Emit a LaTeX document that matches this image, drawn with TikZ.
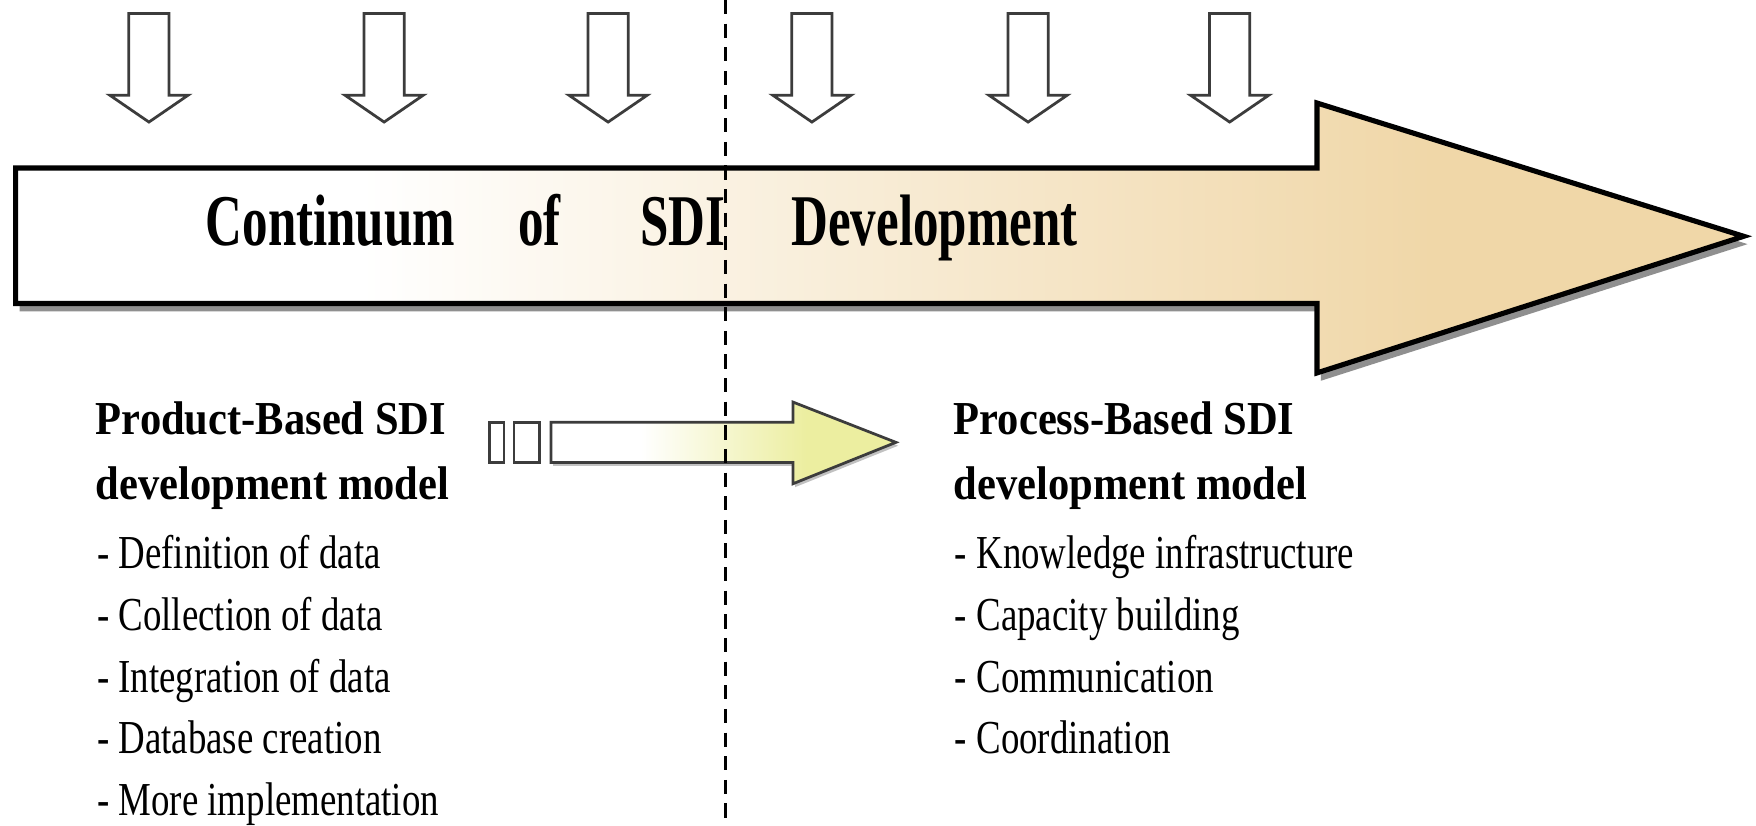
\documentclass[tikz,border=0pt]{standalone}
\usepackage{fontspec}
\usetikzlibrary{shadows}
\setmainfont{Liberation Serif}
\newfontfamily\bandfont{Liberation Serif}[FakeStretch=0.7]
\newfontfamily\headfont{Liberation Serif}[FakeStretch=0.9]
\newfontfamily\itemfont{Liberation Serif}[FakeStretch=0.78]

\definecolor{sditan}{RGB}{240,215,168}
\definecolor{sdilime}{RGB}{236,238,160}
\definecolor{sdiedge}{RGB}{60,60,60}

\pgfdeclarehorizontalshading{bandfade}{100bp}{color(0bp)=(white); color(25bp)=(white); color(35bp)=(white); color(66bp)=(sditan); color(100bp)=(sditan)}
\pgfdeclarehorizontalshading{limefade}{100bp}{color(0bp)=(white); color(25bp)=(white); color(38bp)=(white); color(62bp)=(sdilime); color(100bp)=(sdilime)}

\newcommand{\sdidrop}[1]{%
  \draw[dropblock] (#1,12) ++(-18,0) -- ++(36,0) -- ++(0,73) -- ++(17,0)
    -- ++(-35,24) -- ++(-35,-24) -- ++(17,0) -- cycle;}

\begin{document}
\begin{tikzpicture}[x=0.01cm, y=-0.01cm,
    dropblock/.style={draw=sdiedge, line width=0.7pt, fill=white},
    band/.style={shading=bandfade, draw=black, line width=1.3pt,
      drop shadow={shadow xshift=0.35mm, shadow yshift=-0.7mm, fill=black!55, opacity=0.8}},
    pointer/.style={shading=limefade, draw=sdiedge, line width=0.7pt,
      drop shadow={shadow xshift=0.2mm, shadow yshift=-0.3mm, fill=black!40, opacity=0.6}},
    stripe/.style={draw=sdiedge, line width=0.7pt, fill=white},
    divider/.style={draw=black, line width=0.7pt, dash pattern=on 3.6pt off 2.4pt},
    bandword/.style={anchor=base west, inner sep=0pt, font=\bandfont\bfseries\fontsize{18.5}{20}\selectfont},
    headtext/.style={anchor=base west, inner sep=0pt, font=\headfont\bfseries\fontsize{12}{14}\selectfont},
    itemtext/.style={anchor=base west, inner sep=0pt, font=\itemfont\fontsize{12}{14}\selectfont}]
  \fill[white] (0,0) rectangle (1568,737);
  \useasboundingbox (0,0) rectangle (1568,737);

  % arrows dropping onto the band
  \sdidrop{133}
  \sdidrop{343}
  \sdidrop{543}
  \sdidrop{725}
  \sdidrop{918}
  \sdidrop{1098}

  % the band
  \shadedraw[band] (14,150) -- (1176,150) -- (1176,92) -- (1557,211)
    -- (1176,333) -- (1176,271) -- (14,271) -- cycle;
  \node[bandword] (w continuum) at (183,219) {Continuum};
  \node[bandword] (w of) at (462,219) {of};
  \node[bandword] (w sdi) at (571,219) {SDI};
  \node[bandword] (w development) at (706,219) {Development};

  % product to process
  \draw[stripe] (437,377) rectangle (450,413);
  \draw[stripe] (459,377) rectangle (482,413);
  \shadedraw[pointer] (492,377) -- (708,377) -- (708,359) -- (800,395)
    -- (708,432) -- (708,413) -- (492,413) -- cycle;

  \coordinate (cut top) at (648,0);
  \coordinate (cut bottom) at (648,737);
  \draw[divider] (cut top) -- (cut bottom);

  \node[headtext] (product title) at (85,388) {Product-Based SDI};
  \node[headtext] (product model) at (85,446) {development model};
  \node[itemtext] (def data) at (86,508) {- Definition of data};
  \node[itemtext] (coll data) at (86,563) {- Collection of data};
  \node[itemtext] (integ data) at (86,618) {- Integration of data};
  \node[itemtext] (db creation) at (86,673) {- Database creation};
  \node[itemtext] (more impl) at (86,728) {- More implementation};

  \node[headtext] (process title) at (851,388) {Process-Based SDI};
  \node[headtext] (process model) at (851,446) {development model};
  \node[itemtext] (knowledge) at (852,508) {- Knowledge infrastructure};
  \node[itemtext] (capacity) at (852,563) {- Capacity building};
  \node[itemtext] (communication) at (852,618) {- Communication};
  \node[itemtext] (coordination) at (852,673) {- Coordination};
\end{tikzpicture}
\end{document}
